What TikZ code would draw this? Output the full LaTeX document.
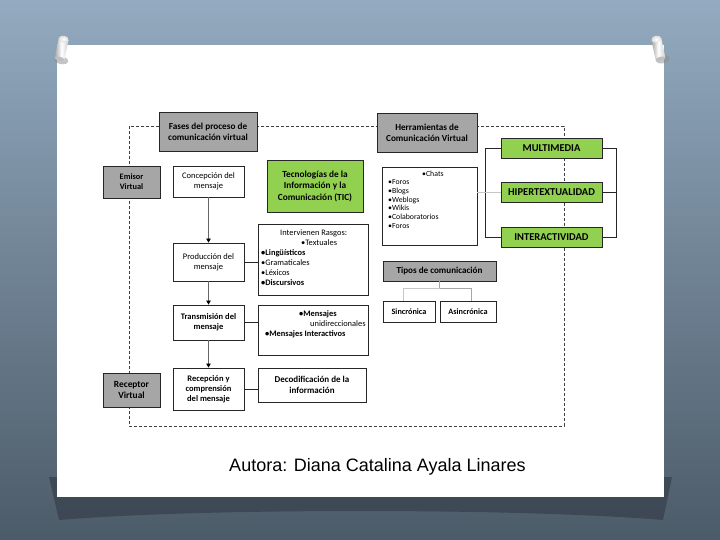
\documentclass[tikz,border=0pt]{standalone}
\usepackage{fontspec}
\setmainfont{Carlito}
\newfontfamily\arialf{Liberation Sans}
\usetikzlibrary{arrows.meta,calc}
\definecolor{gfill}{HTML}{A6A6A6}
\definecolor{grn}{HTML}{92D050}
\definecolor{bord}{HTML}{262626}
\definecolor{bgtop}{HTML}{93AAC0}
\definecolor{bgbot}{HTML}{4C5B68}
\definecolor{shad}{HTML}{3A4550}
\begin{document}
\begin{tikzpicture}[x=1pt,y=-1pt,
  box/.style={draw=bord, line width=0.9pt, inner sep=1pt, align=center},
  wbox/.style={box, fill=white, font=\fontsize{8.5}{10}\selectfont},
  wbbox/.style={box, fill=white, font=\bfseries\fontsize{8.5}{10}\selectfont},
  gbox/.style={box, fill=gfill, font=\bfseries\fontsize{9.2}{11}\selectfont},
  grbox/.style={box, fill=grn, font=\bfseries\fontsize{9.3}{11.5}\selectfont},
  capbox/.style={box, fill=grn, font=\bfseries\fontsize{10.5}{12}\selectfont},
  lst/.style={inner sep=0pt, anchor=north west, align=left},
  arr/.style={draw=gray!80!black, line width=0.6pt, -{Triangle[length=4pt,width=4.5pt,color=black,fill=black]}},
  conn/.style={draw=bord, line width=0.8pt},
  lconn/.style={draw=gray!45, line width=0.8pt},
  frame/.style={draw=black!75, line width=0.5pt, dash pattern=on 3pt off 2pt}
]
\useasboundingbox (0,0) rectangle (720,540);
% background
\shade[top color=bgtop, bottom color=bgbot] (0,0) rectangle (720,540);
% paper shadow
\fill[shad, opacity=0.85] (49,477) -- (672,477) -- (663,520) .. controls (520,508) and (200,508) .. (59,520) -- cycle;
% paper
\fill[white] (57,45) rectangle (664,497);
% pins
\foreach \px/\ang in {62/-12, 658/12}{
  \begin{scope}[shift={(\px,47)}, rotate=\ang]
    \fill[black!45, opacity=0.5] (2,13) ellipse (7pt and 4pt);
    \shade[left color=gray!70, right color=gray!40, middle color=white] (-5,-8) rectangle (5,12);
    \fill[gray!50] (0,12) ellipse (5pt and 2pt);
    \shade[inner color=white, outer color=gray!30] (0,-8) ellipse (5pt and 3.5pt);
  \end{scope}
}
% dashed frame
\draw[frame] (129,126) rectangle (564,426);
% headers
\node[gbox, minimum width=98pt, minimum height=39pt] (fases) at (208,131.5) {Fases del proceso de\\comunicación virtual};
\node[gbox, minimum width=100pt, minimum height=39pt] (herr) at (427,132.5) {Herramientas de\\Comunicación Virtual};
\node[gbox, minimum width=57pt, minimum height=32pt, font=\bfseries\fontsize{8.3}{10}\selectfont] (emisor) at (131.5,182) {Emisor\\Virtual};
\node[gbox, minimum width=57pt, minimum height=34pt, font=\bfseries\fontsize{9.4}{11}\selectfont] (receptor) at (131.5,390) {Receptor\\Virtual};
% phases column
\node[wbox, minimum width=71pt, minimum height=31pt] (concep) at (208.5,181.5) {Concepción del\\mensaje};
\node[wbox, minimum width=71pt, minimum height=38pt] (prod) at (208.5,262) {Producción del\\mensaje};
\node[wbbox, minimum width=71pt, minimum height=35pt] (trans) at (208.5,322.5) {Transmisión del\\mensaje};
\node[wbbox, minimum width=71pt, minimum height=42pt] (recep) at (208.5,389) {Recepción y\\comprensión\\del mensaje};
% middle column
\node[grbox, minimum width=96pt, minimum height=52pt] (tic) at (315,186) {Tecnologías de la\\Información y la\\Comunicación (TIC)};
\node[wbox, minimum width=110pt, minimum height=71pt] (rasgos) at (313,259.5) {};
\node[lst, font=\fontsize{8.4}{10}\selectfont] (rasgost) at (261,229.5) {\hspace*{19pt}Intervienen Rasgos:\\\hspace*{40pt}•Textuales\\\textbf{•Lingüísticos}\\•Gramaticales\\•Léxicos\\\textbf{•Discursivos}};
\node[wbox, minimum width=110pt, minimum height=50pt] (mens) at (313,330) {};
\node[lst, font=\fontsize{8.4}{10}\selectfont] (menst) at (265,310) {\hspace*{34pt}\textbf{•Mensajes}\\\hspace*{45pt}unidireccionales\\\textbf{•Mensajes Interactivos}};
\node[wbbox, minimum width=108pt, minimum height=34pt, font=\bfseries\fontsize{9}{10.5}\selectfont] (decod) at (312,385) {Decodificación de la\\información};
% tools column
\node[wbox, minimum width=95pt, minimum height=78pt] (chats) at (429.5,206) {};
\node[lst, font=\fontsize{7.8}{8.7}\selectfont] (chatst) at (388,170.5) {\hspace*{34pt}•Chats\\•Foros\\•Blogs\\•Weblogs\\•Wikis\\•Colaboratorios\\•Foros};
\node[capbox, minimum width=101pt, minimum height=20pt] (multi) at (551.5,148) {MULTIMEDIA};
\node[capbox, minimum width=101pt, minimum height=20pt] (hiper) at (551.5,192) {HIPERTEXTUALIDAD};
\node[capbox, minimum width=101pt, minimum height=20pt] (inter) at (551.5,237) {INTERACTIVIDAD};
\node[gbox, minimum width=113pt, minimum height=20pt, font=\bfseries\fontsize{9.1}{10}\selectfont] (tipos) at (439.5,271) {Tipos de comunicación};
\node[wbbox, minimum width=52pt, minimum height=21pt, font=\bfseries\fontsize{8.2}{9}\selectfont] (sinc) at (409,311.5) {Sincrónica};
\node[wbbox, minimum width=56pt, minimum height=21pt, font=\bfseries\fontsize{8.2}{9}\selectfont] (asinc) at (468,311.5) {Asincrónica};
% arrows
\draw[arr] (concep.south) -- (prod.north);
\draw[arr] (prod.south) -- (trans.north);
\draw[arr] (trans.south) -- (recep.north);
% side connectors
\draw[conn] (prod.east) -- (prod.east -| rasgos.west);
\draw[conn] (trans.east) -- (trans.east -| mens.west);
\draw[conn] (recep.east) -- (recep.east -| decod.west);
% brackets
\draw[conn] (multi.west) -- ++(-15,0) |- (inter.west);
\draw[conn] (multi.east) -- ++(14,0) |- (inter.east);
\draw[conn] (hiper.east) -- ++(14,0);
\draw[lconn] (chats.east |- hiper.west) -- (hiper.west);
% tipos tree
\coordinate (tj) at (439.5,288);
\draw[conn, draw=gray!70] (tipos.south) -- (tj);
\draw[lconn] ([xshift=-6pt]sinc.north) |- (tj);
\draw[conn, draw=gray!70] (tj) -| ([xshift=3pt]asinc.north);
% caption
\node[font=\arialf\fontsize{18}{20}\selectfont, inner sep=0pt] (cap) at (377.5,467) {Autora: Diana Catalina Ayala Linares};
\end{tikzpicture}
\end{document}
